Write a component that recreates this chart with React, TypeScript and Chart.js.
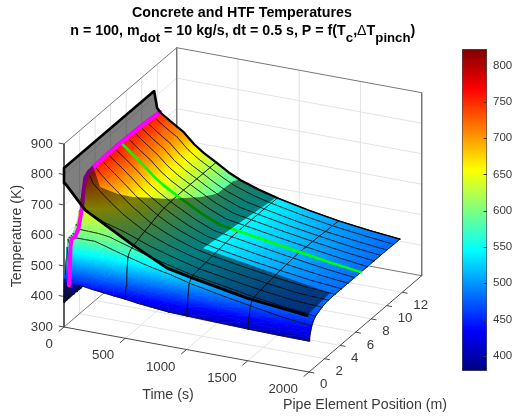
import React, { useEffect, useRef } from "react";
import { Chart, registerables } from "chart.js";

Chart.register(...registerables);

// ---------- data ----------
const timeSteps = [0, 5, 20, 40, 80, 150, 230, 320, 400, 500, 600, 700, 850, 1000, 1250, 1500, 1750, 2000];
const pipePositions = [0, 0.1, 0.2, 0.35, 0.6, 0.84, 1.25, 1.67, 1.9, 2.1, 2.5, 3.34, 4.18, 5.0, 5.85, 6.68, 7.5, 8.36, 9.2, 10.0, 10.9, 11.7];

const tempT0 = [380, 380, 380, 380, 380, 380, 380, 380, 380, 380, 380, 380, 380, 380, 380, 380, 380, 380, 380, 380, 380, 380];
const tempT5 = [458, 470, 480, 495, 500, 505, 520, 540, 555, 565, 590, 610, 620, 620, 620, 620, 620, 620, 620, 620, 620, 620];
const tempT20 = [445, 560, 585, 588, 588, 590, 610, 645, 680, 705, 720, 730, 735, 738, 740, 740, 740, 738, 737, 735, 733, 730];
const tempT40 = [440, 460, 560, 584, 583, 582, 600, 655, 711, 746, 755, 758, 760, 761, 762, 762, 761, 760, 759, 757, 755, 753];
const tempT80 = [444, 490, 565, 590, 600, 607, 625, 650, 685, 705, 722, 738, 745, 748, 749, 749, 748, 747, 746, 745, 743, 742];
const tempT150 = [445, 485, 545, 590, 600, 606, 618, 635, 655, 672, 695, 712, 722, 726, 727, 726, 725, 725, 724, 724, 723, 723];
const tempT230 = [440, 480, 535, 590, 598, 605, 612, 622, 632, 645, 668, 686, 695, 699, 700, 700, 701, 701, 702, 702, 703, 703];
const tempT320 = [436, 475, 525, 580, 592, 600, 606, 612, 618, 624, 640, 655, 663, 667, 668, 668, 668, 668, 668, 668, 668, 668];
const tempT400 = [432, 470, 518, 570, 585, 590, 596, 602, 606, 610, 620, 632, 640, 644, 645, 645, 645, 645, 645, 645, 645, 645];
const tempT500 = [428, 465, 505, 559, 572, 578, 583, 587, 590, 592, 596, 604, 612, 618, 620, 622, 622, 622, 622, 622, 622, 622];
const tempT600 = [422, 458, 495, 548, 560, 565, 569, 572, 574, 576, 579, 585, 590, 595, 598, 600, 600, 600, 599, 598, 598, 597];
const tempT700 = [418, 450, 488, 538, 550, 554, 557, 560, 561, 562, 564, 568, 572, 575, 577, 578, 578, 578, 578, 578, 578, 578];
const tempT850 = [412, 442, 478, 526, 536, 539, 541, 543, 544, 545, 546, 548, 550, 551, 552, 552, 553, 554, 555, 556, 557, 558];
const tempT1000 = [410, 438, 470, 510, 520, 525, 527, 528, 529, 530, 531, 534, 537, 540, 542, 543, 543, 543, 543, 543, 542, 542];
const tempT1250 = [407, 430, 455, 490, 503, 508, 510, 511, 512, 513, 514, 517, 520, 523, 525, 527, 526, 525, 524, 523, 522, 521];
const tempT1500 = [404, 425, 445, 472, 485, 490, 493, 495, 496, 497, 499, 502, 505, 507, 509, 511, 510, 509, 508, 506, 505, 504];
const tempT1750 = [402, 418, 435, 455, 470, 476, 480, 482, 483, 484, 486, 489, 491, 493, 494, 495, 495, 494, 493, 493, 492, 491];
const tempT2000 = [401, 414, 426, 443, 456, 464, 470, 476, 478, 480, 481, 482, 482, 482, 482, 482, 482, 482, 482, 482, 481, 481];
const surfaceRows = [tempT0, tempT5, tempT20, tempT40, tempT80, tempT150, tempT230, tempT320, tempT400, tempT500, tempT600, tempT700, tempT850, tempT1000, tempT1250, tempT1500, tempT1750, tempT2000];

const meshPositions = [0, 0.35, 0.84, 1.67, 2.5, 3.34, 4.18, 5.0, 5.85, 6.68, 7.5, 8.36, 9.2, 10.0, 10.9, 11.7];
const meshTimes = [500, 1000, 1500, 2000];

// translucent concrete sheet: outline as time, position, temperature
const sheetTime = [0, 0, 24, 42, 40, 72, 200, 309, 385, 460, 527, 602, 646, 682, 695, 980, 881, 2000, 1985, 1494, 1045, 841, 539, 173, 49, 8];
const sheetPos = [0, 11.6, 11.6, 11.7, 3.1, 3.5, 3.8, 4, 5, 6, 7, 8, 9.5, 11, 11.7, 11.7, 4, 2.7, 0, 0, 0, 0, 0, 0, 0, 0];
const sheetTemp = [821, 821, 767, 761, 765, 688, 668, 662, 643, 623, 609, 596, 578, 589, 580, 540, 536, 500, 484, 505, 538, 555, 615, 696, 753, 772];

const timeTicks = [0, 500, 1000, 1500, 2000];
const posTicks = [0, 2, 4, 6, 8, 10, 12];
const tempTicks = [300, 400, 500, 600, 700, 800, 900];
const timeLimit = 2000;
const posLimit = 14.5;
const tempLow = 300;
const tempHigh = 900;
const colorLow = 379;
const colorHigh = 823;
const colorTicks = [400, 450, 500, 550, 600, 650, 700, 750, 800];

const titleLine = "Concrete and HTF Temperatures";
const subtitleParts: [string, string][] = [
  ["n = 100, m", "n"], ["dot", "s"], [" = 10 kg/s, dt = 0.5 s, P = f(T", "n"], ["c", "s"], [",", "n"],
  ["\u0394", "r"], ["T", "n"], ["pinch", "s"], [")", "n"],
];
const zLabel = "Temperature (K)";
const tLabel = "Time (s)";
const xLabel = "Pipe Element Position (m)";

// ---------- view ----------
const FONT = '"Liberation Sans", Arial, sans-serif';
const INK = "#3a3a3a";
const project = (t: number, x: number, T: number) => ({
  x: 64 + (245 * t) / timeLimit + (112.7 * x) / posLimit,
  y: 327 + (45 * t) / timeLimit - (96.3 * x) / posLimit - (183 * (T - tempLow)) / (tempHigh - tempLow),
});

const JET: [number, number[]][] = [
  [0, [0, 0, 128]], [0.125, [0, 0, 255]], [0.375, [0, 255, 255]], [0.625, [255, 255, 0]], [0.875, [255, 0, 0]], [1, [128, 0, 0]],
];
function jet(T: number) {
  const v = Math.min(1, Math.max(0, (T - colorLow) / (colorHigh - colorLow)));
  for (let i = 1; i < JET.length; i++) {
    if (v <= JET[i][0]) {
      const [a, ca] = JET[i - 1];
      const [b, cb] = JET[i];
      const f = (v - a) / (b - a);
      const c = ca.map((q, k) => Math.round(q + (cb[k] - q) * f));
      return `rgb(${c[0]},${c[1]},${c[2]})`;
    }
  }
  return "rgb(128,0,0)";
}

function addJetStops(g: CanvasGradient, lo: number, hi: number) {
  g.addColorStop(0, jet(lo));
  for (const [k] of JET) {
    const T = colorLow + k * (colorHigh - colorLow);
    if (T > lo && T < hi) g.addColorStop((T - lo) / (hi - lo), jet(T));
  }
  g.addColorStop(1, jet(hi));
}

type V = { x: number; y: number; T: number };
function shade(chart: any, v: V[]) {
  const sx = chart.scales.x;
  const sy = chart.scales.y;
  const p = v.map((q) => ({ x: sx.getPixelForValue(q.x), y: sy.getPixelForValue(q.y), T: q.T }));
  const lo = Math.min(p[0].T, p[1].T, p[2].T);
  const hi = Math.max(p[0].T, p[1].T, p[2].T);
  if (!p.every((q) => Number.isFinite(q.x) && Number.isFinite(q.y))) return null;
  const ax = p[1].x - p[0].x, ay = p[1].y - p[0].y, bx = p[2].x - p[0].x, by = p[2].y - p[0].y;
  const det = ax * by - ay * bx;
  if (hi - lo < 0.01 || Math.abs(det) < 1e-4) return jet((lo + hi) / 2);
  const d1 = p[1].T - p[0].T, d2 = p[2].T - p[0].T;
  const gx = (d1 * by - d2 * ay) / det;
  const gy = (ax * d2 - bx * d1) / det;
  const m = gx * gx + gy * gy;
  const start = p.find((q) => q.T === lo)!;
  const span = (hi - lo) / m;
  const g = chart.ctx.createLinearGradient(start.x, start.y, start.x + gx * span, start.y + gy * span);
  addJetStops(g, lo, hi);
  return g;
}

function lineSet(points: { x: number; y: number }[], color: string, width: number) {
  return {
    data: points.map((q) => ({ x: q.x, y: q.y })), showLine: true, fill: false, borderColor: color, backgroundColor: color, borderWidth: width,
    borderCapStyle: "round", borderJoinStyle: "round", pointBackgroundColor: "transparent", pointBorderColor: "transparent",
  };
}

function triSet(v: V[]) {
  let cached: any = null;
  const paint = (c: any) => {
    if (cached) return cached;
    const g = shade(c.chart, v);
    if (g) cached = g;
    return g || "#000000";
  };
  return {
    data: [...v, v[0]].map((q) => ({ x: q.x, y: q.y })), showLine: true, fill: "shape", backgroundColor: paint, borderColor: paint,
    borderWidth: 0.7, borderJoinStyle: "round", pointBackgroundColor: "transparent", pointBorderColor: "transparent",
  };
}

function buildDatasets() {
  const ds: any[] = [];
  const line = (pts: [number, number, number][], color: string, w: number) => ds.push(lineSet(pts.map((q) => project(q[0], q[1], q[2])), color, w));

  // back planes and grid
  const GRID = "#e3e3e3";
  for (const T of tempTicks.slice(1, -1)) {
    line([[0, 0, T], [0, posLimit, T], [timeLimit, posLimit, T]], GRID, 1);
  }
  for (const t of timeTicks.slice(1, -1)) {
    line([[t, 0, tempLow], [t, posLimit, tempLow], [t, posLimit, tempHigh]], GRID, 1);
  }
  for (const x of posTicks.slice(1)) {
    line([[timeLimit, x, tempLow], [0, x, tempLow], [0, x, tempHigh]], GRID, 1);
  }
  const BOX = "#777777";
  line([[0, 0, tempHigh], [0, posLimit, tempHigh], [timeLimit, posLimit, tempHigh], [timeLimit, posLimit, tempLow]], BOX, 1);
  line([[0, posLimit, tempHigh], [0, posLimit, tempLow], [timeLimit, posLimit, tempLow]], BOX, 1);
  line([[0, 0, tempLow], [0, posLimit, tempLow]], BOX, 1);
  const AXIS = "#4a4a4a";
  line([[0, 0, tempHigh], [0, 0, tempLow], [timeLimit, 0, tempLow], [timeLimit, posLimit, tempLow]], AXIS, 1);
  for (const T of tempTicks) line([[0, 0, T], [-40, 0, T]], AXIS, 1);
  for (const t of timeTicks) line([[t, 0, tempLow], [t, -0.65, tempLow]], AXIS, 1);
  for (const x of posTicks) line([[timeLimit, x, tempLow], [timeLimit + 40, x, tempLow]], AXIS, 1);

  // surface, far cells first
  const vert = (i: number, j: number): V => {
    const T = surfaceRows[i][j];
    return { ...project(timeSteps[i], pipePositions[j], T), T };
  };
  const MESH = "#111111";
  for (let i = 0; i < timeSteps.length - 1; i++) {
    for (let j = pipePositions.length - 2; j >= 0; j--) {
      const a = vert(i, j), b = vert(i + 1, j), c = vert(i + 1, j + 1), d = vert(i, j + 1);
      ds.push(triSet([a, d, c]));
      ds.push(triSet([a, c, b]));
      const early = timeSteps[i] < 40;
      if (early || meshPositions.includes(pipePositions[j + 1])) ds.push(lineSet([d, c], MESH, 0.8));
      if (early || meshPositions.includes(pipePositions[j])) ds.push(lineSet([a, b], MESH, 0.8));
      if (meshTimes.includes(timeSteps[i + 1])) ds.push(lineSet([b, c], MESH, 0.9));
      if (meshTimes.includes(timeSteps[i])) ds.push(lineSet([a, d], MESH, 0.9));
    }
  }

  // marked time and marked position
  const magentaCol = timeSteps.indexOf(40);
  ds.push(lineSet(pipePositions.map((_, j) => vert(magentaCol, j)), "#ff00ff", 4));
  const greenRow = pipePositions.indexOf(6.68);
  ds.push(lineSet(timeSteps.slice(magentaCol).map((_, k) => vert(k + magentaCol, greenRow)), "#00ff00", 2.6));

  // translucent sheet
  const sheet = sheetTime.map((t, k) => project(t, sheetPos[k], sheetTemp[k]));
  ds.push({
    data: [...sheet, sheet[0]], showLine: true, fill: "shape", backgroundColor: "rgba(0,0,0,0.5)", borderColor: "transparent",
    borderWidth: 0, pointBackgroundColor: "transparent", pointBorderColor: "transparent",
  });
  // bright part of the magenta line above the sheet
  const upper = pipePositions.map((_, j) => j).filter((j) => pipePositions[j] >= 3.34);
  ds.push(lineSet(upper.map((j) => vert(magentaCol, j)), "#ff00ff", 4));
  // heavy sheet edges
  const BLACK = "#000000";
  ds.push(lineSet([sheet[25], sheet[0], sheet[1], sheet[2], project(42, 11.7, 753)], BLACK, 2.6));
  ds.push(lineSet([sheet[25], sheet[24], sheet[23], sheet[22], sheet[21], sheet[20], sheet[19], sheet[18]], BLACK, 2.8));
  const last = pipePositions.length - 1;
  const farTimes = timeSteps.map((_, k) => k).filter((k) => timeSteps[k] >= 40 && timeSteps[k] <= 1000);
  ds.push(lineSet(farTimes.map((k) => vert(k, last)), BLACK, 2.2));
  const farRest = timeSteps.map((_, k) => k).filter((k) => timeSteps[k] >= 1000);
  ds.push(lineSet(farRest.map((k) => vert(k, last)), BLACK, 1.4));
  return ds.reverse();
}

const textPlugin = {
  id: "axisText",
  afterDatasetsDraw(chart: any) {
    const c = chart.ctx as CanvasRenderingContext2D;
    c.save();
    c.textBaseline = "middle";
    c.fillStyle = INK;
    c.font = `13.3px ${FONT}`;
    c.textAlign = "right";
    for (const T of tempTicks) {
      const p = project(0, 0, T);
      c.fillText(String(T), p.x - 11, p.y);
    }
    for (const t of timeTicks) {
      const p = project(t, 0, tempLow);
      c.fillText(String(t), p.x - 11, p.y + 17.5);
    }
    c.textAlign = "left";
    for (const x of posTicks) {
      const p = project(timeLimit, x, tempLow);
      c.fillText(String(x), p.x + 11, p.y + 12.8);
    }
    c.font = `14.2px ${FONT}`;
    c.textAlign = "center";
    c.fillText(tLabel, 168, 395.5);
    c.textAlign = "left";
    c.fillText(xLabel, 283, 405);
    c.save();
    c.translate(17, 236);
    c.rotate(-Math.PI / 2);
    c.textAlign = "center";
    c.fillText(zLabel, 0, 0);
    c.restore();

    c.fillStyle = "#000000";
    c.textAlign = "center";
    c.font = `bold 14.25px ${FONT}`;
    c.fillText(titleLine, 242, 13);
    const fontOf = (k: string) => (k === "s" ? `bold 13.2px ${FONT}` : k === "r" ? `14.25px ${FONT}` : `bold 14.25px ${FONT}`);
    let total = 0;
    for (const [s, k] of subtitleParts) {
      c.font = fontOf(k);
      total += c.measureText(s).width;
    }
    let px = 242.75 - total / 2;
    c.textAlign = "left";
    for (const [s, k] of subtitleParts) {
      c.font = fontOf(k);
      c.fillText(s, px, k === "s" ? 38.5 : 31.5);
      px += c.measureText(s).width;
    }
    c.restore();
  },
};

const innerTicks = {
  id: "innerTicks",
  afterDatasetsDraw(chart: any) {
    const c = chart.ctx as CanvasRenderingContext2D;
    const s = chart.scales.y;
    const r = chart.chartArea.right;
    c.save();
    c.strokeStyle = "#3a3a3a";
    c.lineWidth = 1;
    for (const T of colorTicks) {
      const y = Math.round(s.getPixelForValue(T)) + 0.5;
      c.beginPath();
      c.moveTo(r - 3.5, y);
      c.lineTo(r, y);
      c.stroke();
    }
    c.restore();
  },
};

export default function App() {
  const mainRef = useRef<HTMLCanvasElement>(null);
  const barRef = useRef<HTMLCanvasElement>(null);

  useEffect(() => {
    const main = new Chart(mainRef.current!, {
      type: "scatter",
      data: { datasets: buildDatasets() },
      options: {
        responsive: false, animation: false, devicePixelRatio: 1, events: [],
        layout: { padding: 0 },
        elements: { point: { radius: 0, hoverRadius: 0, borderWidth: 0 }, line: { tension: 0 } },
        scales: {
          x: { type: "linear", min: 0, max: 514, display: false },
          y: { type: "linear", min: 0, max: 416, reverse: true, display: false },
        },
        plugins: { legend: { display: false }, tooltip: { enabled: false }, title: { display: false } },
      },
      plugins: [textPlugin],
    } as any);

    const bar = new Chart(barRef.current!, {
      type: "bar",
      data: {
        labels: ["T"],
        datasets: [{
          data: [[colorLow, colorHigh]],
          barPercentage: 1, categoryPercentage: 1, borderWidth: 1, borderColor: "#4a4a4a", borderSkipped: false,
          backgroundColor: (c: any) => {
            const s = c.chart.scales.y;
            const a = s.getPixelForValue(colorLow);
            const b = s.getPixelForValue(colorHigh);
            if (!Number.isFinite(a) || !Number.isFinite(b)) return "#000000";
            const g = c.chart.ctx.createLinearGradient(0, a, 0, b);
            addJetStops(g, colorLow, colorHigh);
            return g;
          },
        }],
      },
      options: {
        responsive: false, animation: false, devicePixelRatio: 1, events: [],
        layout: { padding: { left: 22, top: 49, bottom: 45, right: 0 } },
        scales: {
          x: { display: false },
          y: {
            position: "right", min: colorLow, max: colorHigh,
            afterBuildTicks: (s: any) => { s.ticks = colorTicks.map((value) => ({ value })); },
            afterFit: (s: any) => { s.width = 27; },
            grid: { display: false, drawTicks: false },
            border: { display: false },
            ticks: { padding: 6, color: INK, font: { family: FONT, size: 11.5 }, autoSkip: false },
          },
        },
        plugins: { legend: { display: false }, tooltip: { enabled: false }, title: { display: false } },
      },
      plugins: [innerTicks],
    } as any);

    return () => {
      main.destroy();
      bar.destroy();
    };
  }, []);

  return (
    <div style={{ position: "fixed", left: 0, top: 0, width: 514, height: 416, background: "#fff", overflow: "hidden", filter: "blur(0.35px)" }}>
      <canvas ref={mainRef} width={514} height={416} style={{ position: "absolute", left: 0, top: 0 }} />
      <canvas ref={barRef} width={74} height={416} style={{ position: "absolute", left: 440, top: 0 }} />
    </div>
  );
}
